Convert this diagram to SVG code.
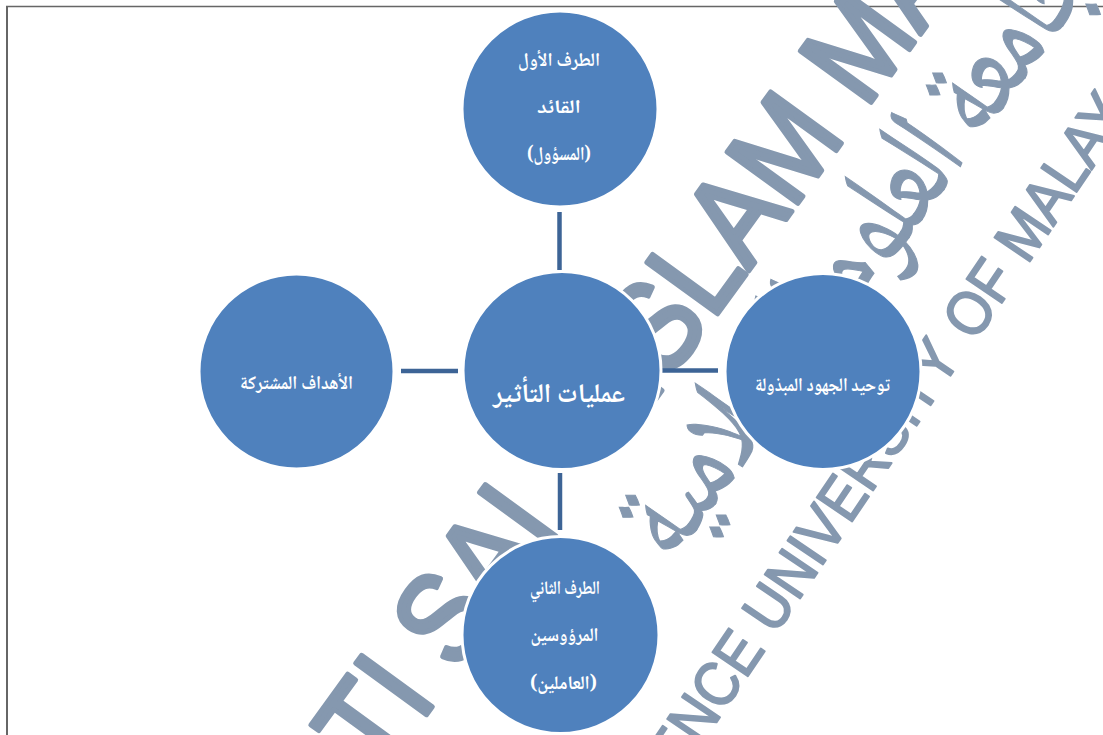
<svg xmlns="http://www.w3.org/2000/svg" width="1103" height="735" viewBox="0 0 1103 735">
  <style>
    .wm { fill: #8598AF; stroke: #8598AF; stroke-linejoin: round; font-family: "Liberation Sans", "DejaVu Sans", sans-serif; }
    .wma { fill: #8598AF; stroke: #8598AF; stroke-width: 1; font-family: "Noto Naskh Arabic", "Amiri", "DejaVu Sans", sans-serif; }
    .node { fill: #4F81BD; stroke: #FFFFFF; stroke-width: 3; }
    .lbl { fill: #FFFFFF; font-family: "Noto Naskh Arabic", "Amiri", "DejaVu Sans", sans-serif; font-weight: bold; text-anchor: middle; }
    .conn { stroke: #3D6496; stroke-width: 4.5; fill: none; }
  </style>
  <rect x="0" y="0" width="1103" height="735" fill="#FFFFFF"/>
  <g id="frame" stroke="#666666" fill="none">
    <line x1="6" y1="6.5" x2="1103" y2="6.5" stroke-width="1.5"/>
    <line x1="7" y1="6" x2="7" y2="735" stroke-width="2"/>
  </g>
  <g id="watermark">
    <g transform="rotate(-54)">
      <g transform="scale(0.88,1)" font-size="127" class="wm" stroke-width="5">
        <text x="-349" y="765" text-anchor="end">TI</text>
        <text x="-314" y="765">SAI</text>
        <text x="60" y="765">ISLAM</text>
        <text x="477" y="765">MA</text>
      </g>
      <g transform="translate(300,875) scale(0.9,1.3)">
        <text class="wma" x="0" y="0" font-size="100" text-anchor="middle">جامعة العلوم الإسلامية</text>
      </g>
    </g>
    <g transform="rotate(-56)">
      <g transform="scale(0.9,1)" font-size="62" class="wm" stroke-width="2">
        <text x="-122" y="998" text-anchor="end">ENCE</text>
        <text x="-104" y="998">UNIVERSITY</text>
        <text x="290" y="1000">OF</text>
        <text x="394" y="1000">MALAY</text>
      </g>
    </g>
  </g>
  <g id="connectors">
    <line class="conn" x1="559.5" y1="212" x2="559.5" y2="270"/>
    <line class="conn" x1="401" y1="371" x2="458" y2="371"/>
    <line class="conn" x1="661" y1="370.5" x2="718" y2="370.5"/>
    <line class="conn" x1="560" y1="473" x2="560" y2="530"/>
  </g>
  <g id="node-top">
    <circle class="node" cx="560" cy="109" r="98"/>
    <text class="lbl" x="559" y="66" font-size="19" textLength="82" lengthAdjust="spacingAndGlyphs">الطرف الأول</text>
    <text class="lbl" x="559" y="113" font-size="19" textLength="44" lengthAdjust="spacingAndGlyphs">القائد</text>
    <text class="lbl" x="559" y="160" font-size="19" textLength="64" lengthAdjust="spacingAndGlyphs">(المسؤول)</text>
  </g>
  <g id="node-center">
    <circle class="node" cx="562" cy="370.5" r="99"/>
    <text class="lbl" x="559" y="402" font-size="27" textLength="132" lengthAdjust="spacingAndGlyphs">عمليات التأثير</text>
  </g>
  <g id="node-left">
    <circle class="node" cx="296.5" cy="371.5" r="97.5"/>
    <text class="lbl" x="296.5" y="389" font-size="19" textLength="113" lengthAdjust="spacingAndGlyphs">الأهداف المشتركة</text>
  </g>
  <g id="node-right">
    <circle class="node" cx="823" cy="371.5" r="98"/>
    <text class="lbl" x="822.5" y="391" font-size="19" textLength="135" lengthAdjust="spacingAndGlyphs">توحيد الجهود المبذولة</text>
  </g>
  <g id="node-bottom">
    <circle class="node" cx="560.5" cy="635" r="98.5"/>
    <text class="lbl" x="565" y="594" font-size="19" textLength="70" lengthAdjust="spacingAndGlyphs">الطرف الثاني</text>
    <text class="lbl" x="564.5" y="641" font-size="19" textLength="68" lengthAdjust="spacingAndGlyphs">المرؤوسين</text>
    <text class="lbl" x="563.5" y="689" font-size="19" textLength="67" lengthAdjust="spacingAndGlyphs">(العاملين)</text>
  </g>
</svg>
